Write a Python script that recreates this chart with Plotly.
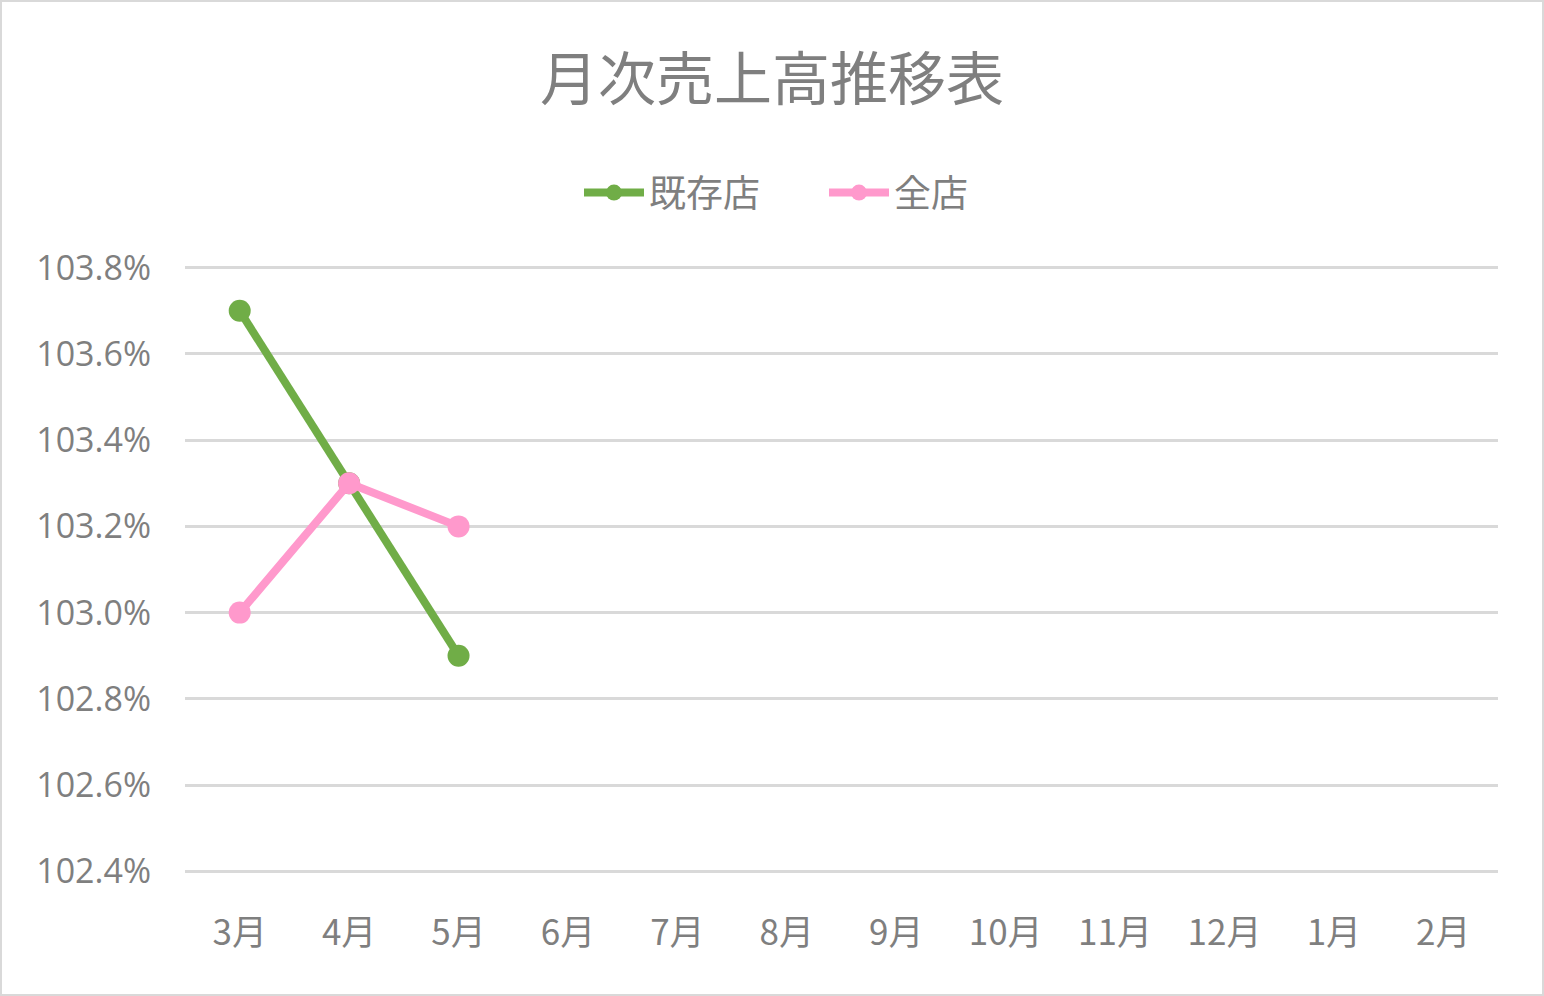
import plotly.graph_objects as go

months = ["3月", "4月", "5月", "6月", "7月", "8月", "9月", "10月", "11月", "12月", "1月", "2月"]
kizon = [103.7, 103.3, 102.9]   # 既存店 (%)
zenten = [103.0, 103.3, 103.2]  # 全店 (%)
y_ticks = [102.4, 102.6, 102.8, 103.0, 103.2, 103.4, 103.6, 103.8]

W, H = 1544, 996
L, R, T, B = 185, 46, 266, 123
gray = "#7F7F7F"
jp = "Noto Sans CJK JP, Open Sans, sans-serif"

fig = go.Figure()
fig.add_trace(go.Scatter(x=months[:len(kizon)], y=kizon, name="既存店", mode="lines+markers",
                         line=dict(color="#70AD47", width=8), marker=dict(size=22, color="#70AD47")))
fig.add_trace(go.Scatter(x=months[:len(zenten)], y=zenten, name="全店", mode="lines+markers",
                         line=dict(color="#FF99CC", width=8), marker=dict(size=22, color="#FF99CC")))

pw, ph = W - L - R, H - T - B
fig.add_shape(type="rect", xref="paper", yref="paper",
              x0=-(L - 1) / pw, x1=1 + (R - 1) / pw, y0=-(B - 1) / ph, y1=1 + (T - 1) / ph,
              line=dict(color="#D9D9D9", width=2), fillcolor="rgba(0,0,0,0)", layer="below")

pad = 0.004
fig.update_layout(
    width=W, height=H,
    margin=dict(l=L, r=R, t=T, b=B, autoexpand=False),
    paper_bgcolor="white", plot_bgcolor="white",
    title=dict(text="月次売上高推移表", x=0.5, xref="container", xanchor="center",
               y=1 - 80 / H, yanchor="middle", font=dict(family=jp, size=58, color=gray)),
    legend=dict(orientation="h", x=(W / 2 + 52 - L) / pw, xref="paper", xanchor="center",
                y=1 + (T - 193) / ph, yanchor="middle",
                font=dict(family=jp, size=37, color=gray), entrywidth=170, itemwidth=60),
    showlegend=True,
    xaxis=dict(categoryorder="array", categoryarray=months, range=[-0.5, len(months) - 0.5],
               tickmode="array", tickvals=months, showgrid=False, zeroline=False, showline=False,
               ticks="", ticklabelstandoff=36, tickangle=0,
               tickfont=dict(family=jp, size=35, color=gray)),
    yaxis=dict(range=[y_ticks[0] - pad, y_ticks[-1] + pad], tickvals=y_ticks,
               ticktext=[f"{v:.1f}%" for v in y_ticks],
               showgrid=True, gridcolor="#D9D9D9", gridwidth=3, zeroline=False, showline=False,
               ticks="", ticklabelstandoff=33,
               tickfont=dict(family="Open Sans, sans-serif", size=34, color=gray)),
)

fig.write_html("out.html", config={"displayModeBar": False},
               post_script="document.body.style.margin='0';")
